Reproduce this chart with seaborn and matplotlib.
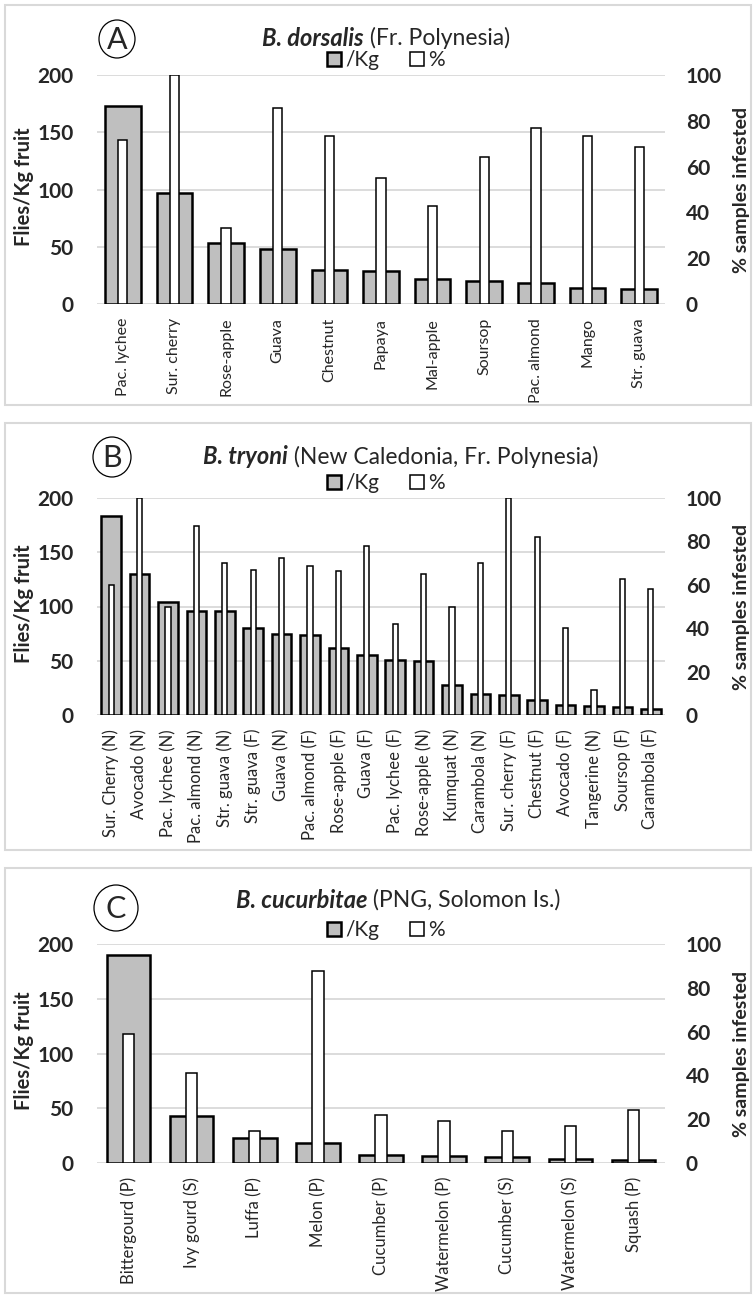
import matplotlib
matplotlib.use("Agg")
import matplotlib.pyplot as plt
import seaborn as sns
import pandas as pd
from matplotlib.patches import Patch, Rectangle, Ellipse

# ---- data ----
cats_a = ["Pac. lychee", "Sur. cherry", "Rose-apple", "Guava", "Chestnut", "Papaya",
          "Mal-apple", "Soursop", "Pac. almond", "Mango", "Str. guava"]
kg_a = [173, 97, 53, 48, 30, 29, 21.5, 20, 18, 14, 13]
pct_a = [71.5, 100, 33, 85.5, 73.5, 55, 43, 64, 77, 73.5, 68.5]

cats_b = ["Sur. Cherry (N)", "Avocado (N)", "Pac. lychee (N)", "Pac. almond (N)",
          "Str. guava (N)", "Str. guava (F)", "Guava (N)", "Pac. almond (F)",
          "Rose-apple (F)", "Guava (F)", "Pac. lychee (F)", "Rose-apple (N)",
          "Kumquat (N)", "Carambola (N)", "Sur. cherry (F)", "Chestnut (F)",
          "Avocado (F)", "Tangerine (N)", "Soursop (F)", "Carambola (F)"]
kg_b = [183, 130, 104, 96, 96, 80, 75, 74, 62, 55, 51, 50, 28, 19, 18, 14, 9, 8.5, 7, 5.5]
pct_b = [60, 100, 50, 87, 70, 67, 72.5, 68.5, 66.5, 78, 42, 65, 50, 70, 100, 82, 40, 11.5, 62.5, 58]

cats_c = ["Bittergourd (P)", "Ivy gourd (S)", "Luffa (P)", "Melon (P)", "Cucumber (P)",
          "Watermelon (P)", "Cucumber (S)", "Watermelon (S)", "Squash (P)"]
kg_c = [190, 43, 22.5, 18, 7.5, 6.5, 5.5, 4, 3]
pct_c = [59, 41, 14.5, 87.5, 22, 19, 14.5, 17, 24]

panels = [
    ("A", "B. dorsalis", "(Fr. Polynesia)", cats_a, kg_a, pct_a),
    ("B", "B. tryoni", "(New Caledonia, Fr. Polynesia)", cats_b, kg_b, pct_b),
    ("C", "B. cucurbitae", "(PNG, Solomon Is.)", cats_c, kg_c, pct_c),
]

# ---- layout (pixels) ----
W, H = 756, 1295
boxes = [(5, 405), (423, 850), (868, 1293)]
plot_tb = [(75, 304), (498, 715), (944, 1163)]
title_y = [38, 457, 900]
legend_y = [60, 483, 930]
circles = [(117, 39, 36, 38), (112, 457, 38, 40), (116, 908, 44, 46)]
title_cx = [386, 401, 398]
xlab_size = [11.5, 12, 12]
PL, PR = 97, 665
GRAY = "#bfbfbf"

sns.set_style("white")
plt.rcParams["font.family"] = ["Lato", "DejaVu Sans"]

fig = plt.figure(figsize=(W / 100, H / 100), dpi=100)


def fx(x):
    return x / W


def fy(y):
    return 1 - y / H


for i, (letter, sp, loc, cats, kg, pct) in enumerate(panels):
    top, bot = plot_tb[i]
    ax = fig.add_axes([fx(PL), fy(bot), fx(PR - PL), (bot - top) / H])
    df = pd.DataFrame({"cat": cats, "kg": kg, "pct": pct})

    sns.barplot(data=df, x="cat", y="kg", ax=ax, color=GRAY, saturation=1,
                edgecolor="black", linewidth=1.8, width=0.69)
    ax2 = ax.twinx()
    sns.barplot(data=df, x="cat", y="pct", ax=ax2, color="white", saturation=1,
                edgecolor="black", linewidth=1.1, width=0.18)

    n = len(cats)
    ax.set_xlim(-0.5, n - 0.5)
    ax.set_ylim(0, 200)
    ax2.set_ylim(0, 100)
    ax.set_yticks([0, 50, 100, 150, 200])
    ax2.set_yticks([0, 20, 40, 60, 80, 100])
    ax.yaxis.grid(True, color="#d9d9d9", lw=1.3)
    ax.set_axisbelow(True)
    for a in (ax, ax2):
        for s in a.spines.values():
            s.set_visible(False)
        a.set_xlabel("")
        a.set_ylabel("")
    ax.tick_params(axis="y", length=0, pad=17, labelsize=15)
    ax2.tick_params(axis="y", length=0, pad=15, labelsize=15)
    for t in ax.get_yticklabels() + ax2.get_yticklabels():
        t.set_fontweight("bold")
    ax.set_xticks(range(n))
    ax.set_xticklabels(cats, rotation=90, fontsize=xlab_size[i])
    ax.tick_params(axis="x", length=0, pad=10)
    ax2.tick_params(axis="x", length=0)

    # panel frame
    y0, y1 = boxes[i]
    fig.add_artist(Rectangle((fx(5), fy(y1)), fx(751 - 5), (y1 - y0) / H,
                             transform=fig.transFigure, fill=False,
                             edgecolor="#d9d9d9", lw=1.5))

    # axis labels
    cy = (top + bot) / 2
    fig.text(fx(24), fy(cy - 3), "Flies/Kg fruit", rotation=90, ha="center",
             va="center", fontsize=14.5, fontweight="bold")
    fig.text(fx(742), fy(cy), "% samples infested", rotation=90,
             ha="center", va="center", fontsize=14, fontweight="bold")

    # panel letter in an ellipse
    cx0, cy0, ew, eh = circles[i]
    fig.add_artist(Ellipse((fx(cx0), fy(cy0)), ew / W, eh / H,
                           transform=fig.transFigure, fill=False,
                           edgecolor="black", lw=0.9))
    fig.text(fx(cx0), fy(cy0 + 1), letter, ha="center", va="center", fontsize=22)

    # title: bold italic species + normal location
    t1 = fig.text(0, fy(title_y[i]), sp, fontsize=17, fontweight="bold",
                  fontstyle="italic", va="center", ha="left")
    t2 = fig.text(0, fy(title_y[i]), " " + loc, fontsize=16.5, va="center", ha="left")
    fig.canvas.draw()
    w1 = t1.get_window_extent().width
    w2 = t2.get_window_extent().width
    start = title_cx[i] - (w1 + w2) / 2
    t1.set_x(fx(start))
    t2.set_x(fx(start + w1))

    # legend
    handles = [Patch(facecolor=GRAY, edgecolor="black", lw=1.8, label="/Kg"),
               Patch(facecolor="white", edgecolor="black", lw=1.1, label="%")]
    fig.legend(handles=handles, loc="center", ncol=2, frameon=False,
               bbox_to_anchor=(fx(386), fy(legend_y[i])), fontsize=15,
               handlelength=0.65, handleheight=0.65, handletextpad=0.2,
               columnspacing=1.5)

fig.savefig("out.png", dpi=100)
